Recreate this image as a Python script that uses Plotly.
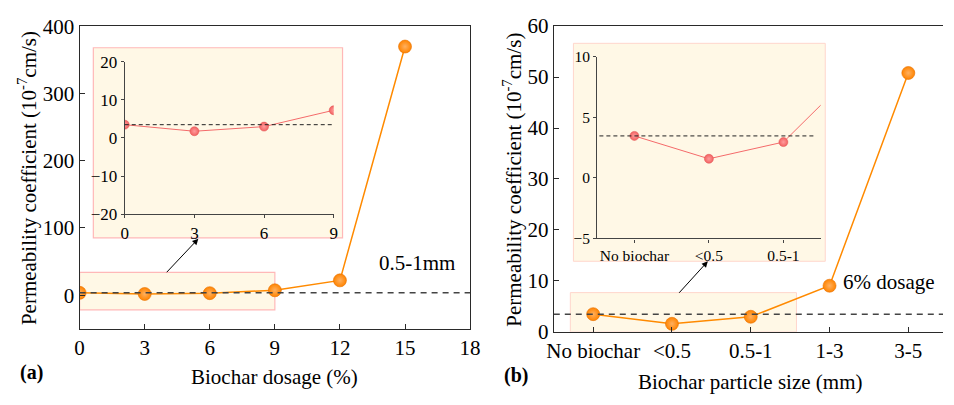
import plotly.graph_objects as go

W, H = 954, 405

# ---------------- data ----------------
dosage = [0, 3, 6, 9, 12, 15]
perm_dosage = [3.47, 1.75, 2.96, 7.25, 22, 370]
size_labels = ["No biochar", "<0.5", "0.5-1", "1-3", "3-5"]
perm_size = [3.47, 1.58, 2.96, 9.05, 50.8]
baseline = 3.47

a_xticks = [0, 3, 6, 9, 12, 15, 18]
a_yticks = [0, 100, 200, 300, 400]
a_in_xticks = [0, 3, 6, 9]
a_in_yticks = [-20, -10, 0, 10, 20]
b_yticks = [0, 10, 20, 30, 40, 50, 60]
b_in_yticks = [-5, 0, 5, 10]

FONT = "Liberation Serif"
ORANGE = "#FF8A00"
RED = "#F46A6A"
FILL = "#FFF8E6"
EDGE = "#FFB8B8"
AX = "#2a2a2a"


def px_x(p):
    return p / W


def px_y(p):
    return 1 - p / H


size_idx = list(range(len(size_labels)))

fig = go.Figure()

orange_marker = dict(size=13, color="#FF8400", line=dict(color="#E87000", width=0.6),
                     gradient=dict(type="radial", color="#FFB060"))
red_marker = dict(size=9, color="#F26262", line=dict(color="#E05050", width=0.5),
                  gradient=dict(type="radial", color="#FF9C9C"))

# main a
fig.add_trace(go.Scatter(
    x=dosage, y=perm_dosage, mode="lines+markers", xaxis="x", yaxis="y",
    line=dict(color=ORANGE, width=1.5), marker=orange_marker, showlegend=False))
# inset a
fig.add_trace(go.Scatter(
    x=dosage, y=perm_dosage, mode="lines+markers", xaxis="x2", yaxis="y2",
    line=dict(color=RED, width=1), marker=red_marker, showlegend=False))
# main b
fig.add_trace(go.Scatter(
    x=size_idx, y=perm_size, mode="lines+markers", xaxis="x3", yaxis="y3",
    line=dict(color=ORANGE, width=1.5), marker=orange_marker, showlegend=False))
# inset b
fig.add_trace(go.Scatter(
    x=size_idx, y=perm_size, mode="lines+markers", xaxis="x4", yaxis="y4",
    line=dict(color=RED, width=1), marker=red_marker, showlegend=False))

main_font = dict(family=FONT, size=21, color="black")

common_main = dict(showline=True, linecolor=AX, linewidth=1.3, ticks="inside",
                   ticklen=5, tickcolor=AX, tickwidth=1.2, showgrid=False,
                   zeroline=False, tickfont=main_font)
common_in = dict(showline=True, linecolor="#444", linewidth=1.2, ticks="outside",
                 ticklen=3, tickcolor="#444", tickwidth=1, showgrid=False,
                 zeroline=False)

fig.update_layout(
    width=W, height=H, margin=dict(l=0, r=0, t=0, b=0),
    paper_bgcolor="white", plot_bgcolor="rgba(0,0,0,0)",
    xaxis=dict(domain=[px_x(74), px_x(472)], range=[0, 18], tickvals=a_xticks,
               mirror=True, anchor="y", **common_main),
    yaxis=dict(domain=[px_y(336.7), px_y(15.3)], range=[-50, 400], tickvals=a_yticks,
               mirror=True, anchor="x", **common_main),
    xaxis2=dict(domain=[px_x(120), px_x(333)], range=[0, 9], tickvals=a_in_xticks,
                anchor="y2", tickfont=dict(family=FONT, size=17, color="black"), **common_in),
    yaxis2=dict(domain=[px_y(215), px_y(52.7)], range=[-20, 20], tickvals=a_in_yticks,
                anchor="x2", tickfont=dict(family=FONT, size=17, color="black"), **common_in),
    xaxis3=dict(domain=[px_x(557.3), 1.0], range=[-0.5, 4.44], tickvals=size_idx,
                ticktext=size_labels, mirror=True, anchor="y3", **common_main),
    yaxis3=dict(domain=[px_y(340), px_y(15)], range=[0, 60], tickvals=b_yticks,
                mirror=False, anchor="x3", **common_main),
    xaxis4=dict(domain=[px_x(601.5), px_x(829.3)], range=[-0.5, 2.5], tickvals=size_idx[:3],
                ticktext=size_labels[:3], anchor="y4",
                tickfont=dict(family=FONT, size=15.5, color="black"), **common_in),
    yaxis4=dict(domain=[px_y(240.7), px_y(47.7)], range=[-5, 10], tickvals=b_in_yticks,
                anchor="x4", tickfont=dict(family=FONT, size=15.5, color="black"), **common_in),
)

shapes = [
    # inset panels
    dict(type="rect", xref="paper", yref="paper", x0=px_x(88), x1=px_x(342),
         y0=px_y(240), y1=px_y(38), fillcolor=FILL, line=dict(color=EDGE, width=1.2), layer="below"),
    dict(type="rect", xref="paper", yref="paper", x0=px_x(577.3), x1=px_x(834),
         y0=px_y(265), y1=px_y(33.3), fillcolor=FILL, line=dict(color="#FFD6CC", width=1), layer="below"),
    # highlight boxes in main panels
    dict(type="rect", xref="x", yref="y", x0=0, x1=9, y0=-22, y1=34,
         fillcolor=FILL, line=dict(color=EDGE, width=1.2), layer="below"),
    dict(type="rect", xref="x3", yref="y3", x0=-0.29, x1=2.58, y0=0, y1=7.7,
         fillcolor=FILL, line=dict(color="#FFD6CC", width=1), layer="below"),
    # dashed baselines
    dict(type="line", xref="x domain", yref="y", x0=0, x1=1, y0=baseline, y1=baseline,
         line=dict(color="#444", width=1.5, dash="6px,5px")),
    dict(type="line", xref="x2 domain", yref="y2", x0=0, x1=1, y0=baseline, y1=baseline,
         line=dict(color="#222", width=1, dash="4px,3px")),
    dict(type="line", xref="x3 domain", yref="y3", x0=0, x1=1, y0=baseline, y1=baseline,
         line=dict(color="#444", width=1.5, dash="6px,5px")),
    dict(type="line", xref="x4 domain", yref="y4", x0=0.01, x1=0.97, y0=baseline, y1=baseline,
         line=dict(color="#222", width=1, dash="4px,3px")),
]
fig.update_layout(shapes=shapes)


def label(xp, yp, text, font=main_font, angle=0):
    return dict(x=px_x(xp), y=px_y(yp), xref="paper", yref="paper", text=text,
                showarrow=False, font=font, xanchor="center", yanchor="middle",
                textangle=angle)


bold_font = dict(family=FONT, size=20, color="black")
ann = [
    # arrows
    dict(x=px_x(195), y=px_y(241), xref="paper", yref="paper", ax=-33, ay=35,
         axref="pixel", ayref="pixel", showarrow=True, arrowhead=2, arrowsize=1.2,
         arrowwidth=1, arrowcolor="black", text=""),
    dict(x=px_x(714.3), y=px_y(265), xref="paper", yref="paper", ax=-30, ay=33,
         axref="pixel", ayref="pixel", showarrow=True, arrowhead=2, arrowsize=1.2,
         arrowwidth=1, arrowcolor="black", text=""),
    label(418, 267, "0.5-1mm"),
    label(899, 287, "6% dosage"),
    label(25, 383, "<b>(a)</b>", bold_font),
    label(519, 386, "<b>(b)</b>", bold_font),
    label(273, 388, "Biochar dosage (%)"),
    label(758, 393, "Biochar particle size (mm)"),
    label(21, 177, "Permeability coefficient (10<sup>-7</sup>cm/s)", angle=-90),
    label(515, 178, "Permeability coefficient (10<sup>-7</sup>cm/s)", angle=-90),
]
fig.update_layout(annotations=ann)

fig.write_html("out.html")
